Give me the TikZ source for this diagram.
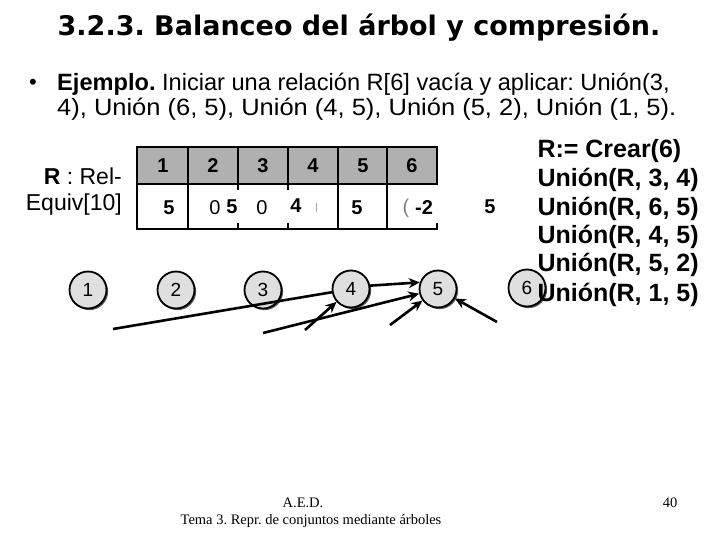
\documentclass[tikz,border=0pt]{standalone}
\usepackage{fontspec}
\setmainfont{Liberation Sans}
\newfontfamily\titlefont{DejaVu Sans}
\newfontfamily\footfont{Liberation Serif}
\usetikzlibrary{arrows.meta,shadows}
\frenchspacing
\begin{document}
\begin{tikzpicture}[x=1pt,y=-1pt,
  circ/.style={circle,draw,line width=1.8pt,fill=gray!25,minimum size=37pt,inner sep=0pt,
    font=\fontsize{19}{19}\selectfont,
    drop shadow={shadow xshift=1.6pt,shadow yshift=-1.6pt,fill=black!65,opacity=1}},
  arr/.style={line width=2.6pt,-{Stealth[length=11pt,width=10pt]}},
  ln/.style={line width=2.6pt},
  tb/.style={line width=2.4pt},
  hd/.style={font=\fontsize{20}{20}\selectfont\bfseries},
  val/.style={font=\fontsize{20}{20}\selectfont\bfseries},
  valn/.style={font=\fontsize{20}{20}\selectfont},
  op/.style={anchor=west,font=\fontsize{25}{25}\selectfont\bfseries}]
\useasboundingbox (0,0) rectangle (720,540);
% title
\node (title) at (359,28) {\titlefont\fontsize{27}{27}\selectfont\bfseries 3.2.3. Balanceo del árbol y compresión.};
% bullet
\node (bul) at (33,84) {\fontsize{22}{22}\selectfont •};
\node[anchor=west,inner sep=0pt] (l1) at (57,84) {\fontsize{23.6}{24}\selectfont\textbf{Ejemplo.} Iniciar una relación R[6] vacía y aplicar: Unión(3,};
\node[anchor=west,inner sep=0pt] (l2) at (57,109) {\scalebox{1.08}[1]{\fontsize{23.6}{24}\selectfont 4), Unión (6, 5), Unión (4, 5), Unión (5, 2), Unión (1, 5).}};
% label
\node[anchor=east,inner sep=0pt] (lab1) at (122,176) {\fontsize{23}{23}\selectfont\textbf{R} : Rel-};
\node[anchor=east,inner sep=0pt] (lab2) at (122,205) {\fontsize{23}{23}\selectfont Equiv[10]};
% table header
\fill[gray!62] (137,147) rectangle (437,184);
\draw[tb] (137,147) rectangle (437,184);
\foreach \x in {188,238,288,338,387} \draw[tb] (\x,147) -- (\x,184);
\foreach \i/\x in {1/163,2/213,3/263,4/313,5/363,6/412}
  \node[hd] (h\i) at (\x,166) {\i};
% table value row
\draw[tb] (137,184) -- (137,229) -- (437,229) -- (437,223);
\foreach \x in {188,338,387} \draw[tb] (\x,184) -- (\x,229);
\foreach \x in {238,288} {\draw[tb] (\x,184) -- (\x,190); \draw[tb] (\x,223) -- (\x,229);}
\node[val] (v1) at (169,208) {5};
\node[valn] (v2a) at (215,208) {0};
\node[val] (v2b) at (232,207) {5};
\node[valn] (v3) at (262,208) {0};
\node[val] (v4) at (296,206) {4};
\draw[gray!70,line width=0.8pt] (316,203) -- (316,212);
\node[val] (v5) at (357,208) {5};
\node[valn,gray] (v6a) at (406,208) {(};
\node[val] (v6b) at (424,208) {-2};
\node[val] (v7) at (490,207) {5};
% circles
\node[circ] (c1) at (88,290) {1};
\node[circ] (c2) at (176,290) {2};
\node[circ] (c3) at (263,290) {3};
\node[circ] (c4) at (351,289) {4};
\node[circ] (c5) at (438,289) {5};
\node[circ] (c6) at (527,288) {6};
% connectors
\coordinate (s1) at (113,329);
\coordinate (s2) at (263,333);
\coordinate (s3) at (305,330);
\coordinate (s5) at (390,325);
\coordinate (s6) at (497,322);
\draw[ln] (s1) -- (c4);
\draw[arr] (s2) -- (c5);
\draw[arr] (s3) -- (c4);
\draw[arr] (c4.10) -- (c5.160);
\draw[arr] (s5) -- (c5);
\draw[arr] (s6) -- (c5);
% operations
\node[op] (o1) at (534,151) {R:= Crear(6)};
\node[op] (o2) at (534,180) {Unión(R, 3, 4)};
\node[op] (o3) at (534,209) {Unión(R, 6, 5)};
\node[op] (o4) at (534,237) {Unión(R, 4, 5)};
\node[op] (o5) at (534,265) {Unión(R, 5, 2)};
\node[op] (o6) at (534,295) {Unión(R, 1, 5)};
% footer
\node (f1) at (303,503) {\footfont\fontsize{14.5}{14.5}\selectfont A.E.D.};
\node (f2) at (311,521) {\footfont\fontsize{14.5}{14.5}\selectfont Tema 3. Repr. de conjuntos mediante árboles};
\node (f3) at (670,503) {\footfont\fontsize{14.5}{14.5}\selectfont 40};
\end{tikzpicture}
\end{document}
